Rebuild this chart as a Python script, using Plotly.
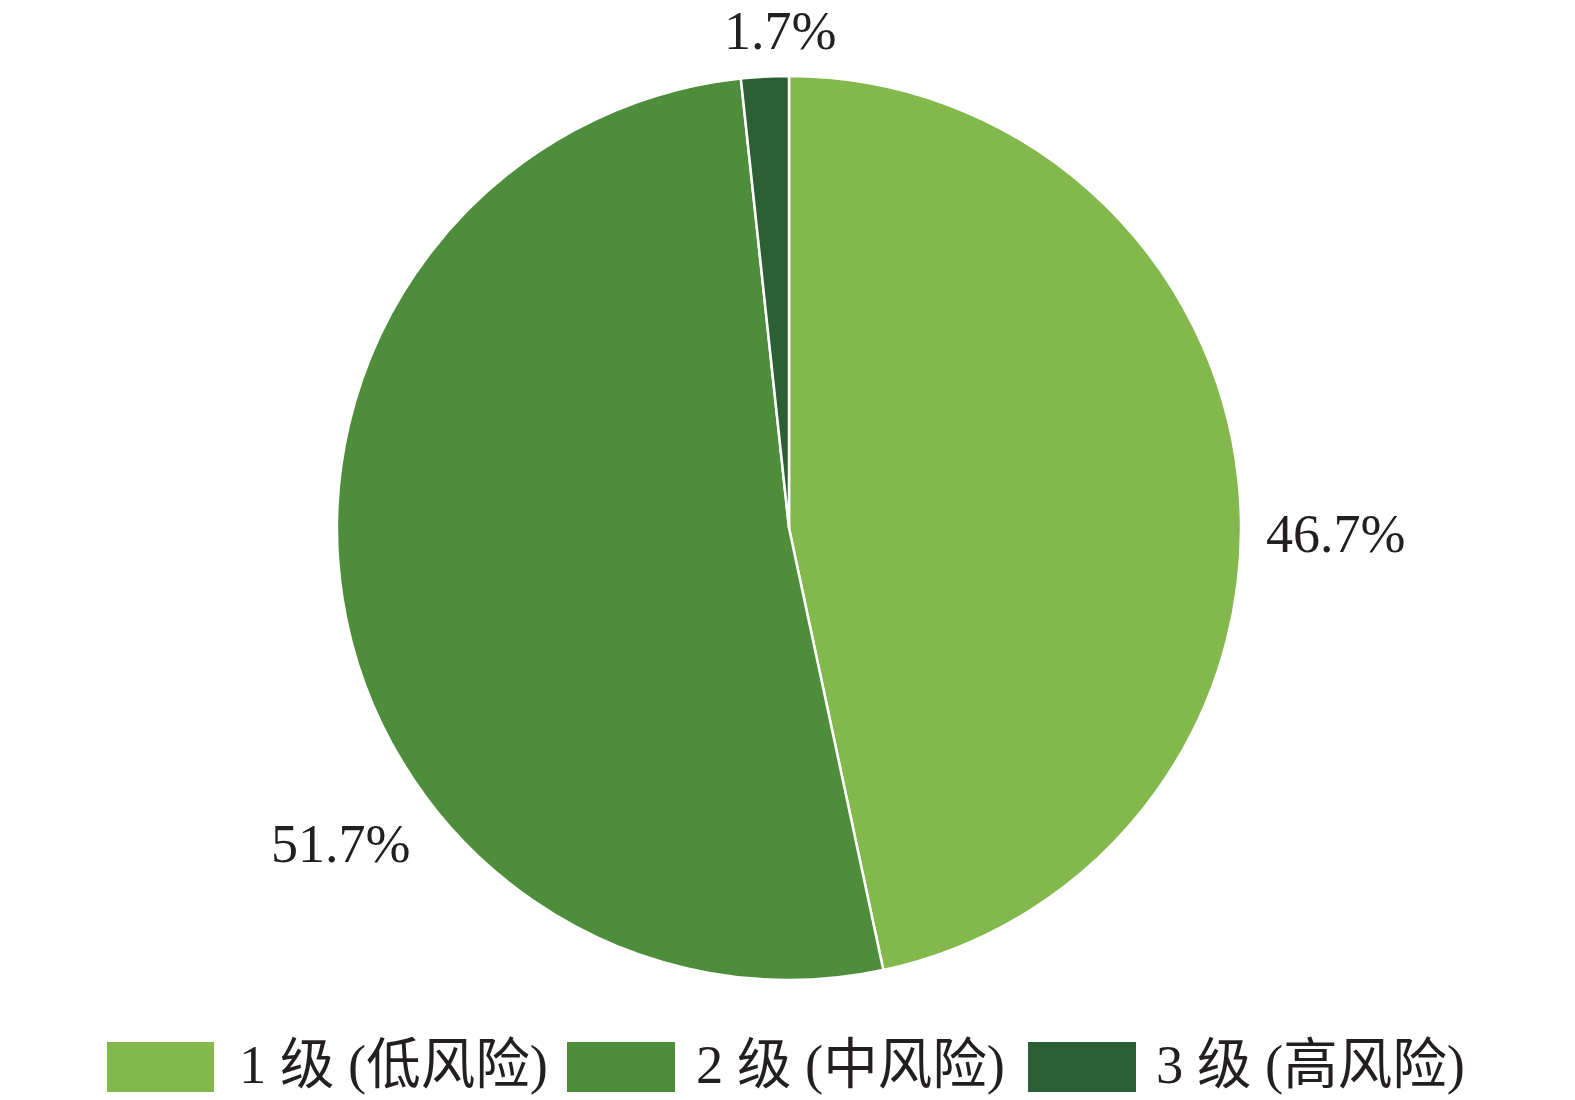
import plotly.graph_objects as go

categories = ["1 级 (低风险)", "2 级 (中风险)", "3 级 (高风险)"]
shares = [46.7, 51.7, 1.7]
colors = ["#83B84C", "#4E8D3B", "#2D5F34"]

W, H = 1575, 1100
OFF = 8  # page body margin in the browser
FONT = "Liberation Serif, Times New Roman, Noto Sans CJK SC, serif"

def px(x):
    return (x - OFF) / W

def py(y):
    return 1 - (y - OFF) / H

fig = go.Figure()
fig.add_trace(go.Pie(
    labels=categories,
    values=shares,
    sort=False,
    direction="clockwise",
    rotation=0,
    textinfo="none",
    hoverinfo="label+value",
    marker=dict(colors=colors, line=dict(color="white", width=2.5)),
    domain=dict(x=[px(336), px(1242)], y=[py(980), py(76)]),
    showlegend=False,
))

# percentage labels (text from data)
label_pos = [(1335, 534), (340, 844), (780, 31)]
for v, (x, y) in zip(shares, label_pos):
    fig.add_annotation(x=px(x), y=py(y), xref="paper", yref="paper",
                       text=f"{v:.1f}%", showarrow=False,
                       xanchor="center", yanchor="middle",
                       font=dict(family=FONT, size=54, color="#231F20"))

# custom legend
legend_rects = [(107, 214), (567, 675), (1028, 1136)]
legend_text_x = [237, 694, 1154]
for cat, col, (x0, x1), tx in zip(categories, colors, legend_rects, legend_text_x):
    fig.add_shape(type="rect", xref="paper", yref="paper",
                  x0=px(x0), x1=px(x1), y0=py(1092), y1=py(1042),
                  fillcolor=col, line=dict(width=0))
    fig.add_annotation(x=px(tx), y=py(1064), xref="paper", yref="paper",
                       text=cat, showarrow=False, xanchor="left", yanchor="middle",
                       font=dict(family=FONT, size=54.5, color="#231F20"))

fig.update_layout(
    width=W, height=H,
    margin=dict(l=0, r=0, t=0, b=0),
    paper_bgcolor="white", plot_bgcolor="white",
)

fig.write_html("out.html")
